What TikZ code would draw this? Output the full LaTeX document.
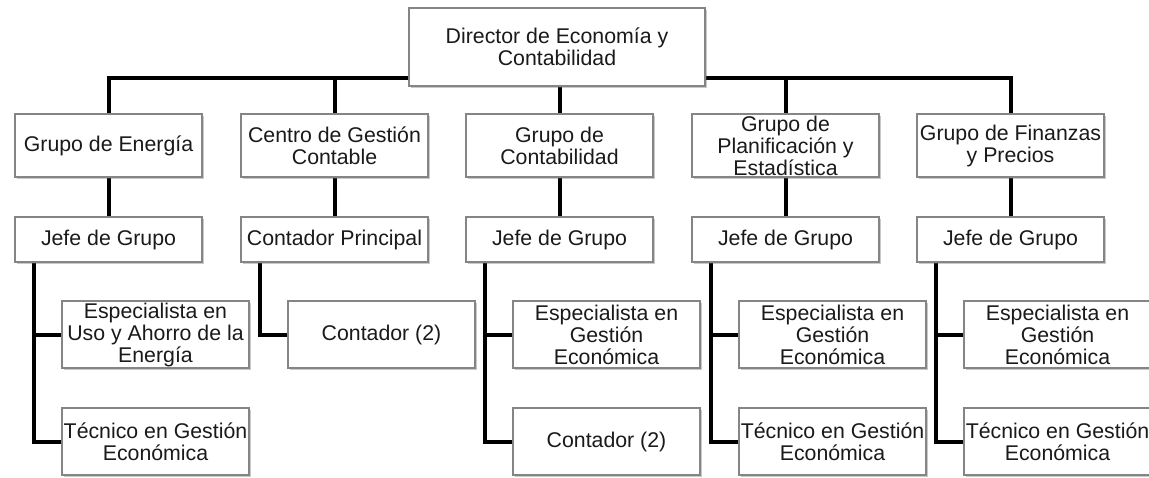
\documentclass[tikz,border=0pt]{standalone}
\usepackage{fontspec}
\setmainfont{Liberation Sans}
\usetikzlibrary{shadows,backgrounds}
\definecolor{boxline}{HTML}{858585}
\definecolor{txt}{HTML}{1A1A1A}
\begin{document}
\begin{tikzpicture}[x=1pt,y=-1pt,
  box/.style={draw=boxline, line width=1.1pt, fill=white, inner sep=0pt, align=center,
    text=txt, font=\fontsize{21.3}{22}\selectfont,
    drop shadow={shadow xshift=1.6pt, shadow yshift=-1.8pt, opacity=0.35, fill=black!60}},
  topbox/.style={box, minimum width=296pt, minimum height=78pt},
  grp/.style={box, minimum width=187pt, minimum height=63pt},
  jefe/.style={box, minimum width=187pt, minimum height=45pt},
  sub/.style={box, minimum width=187pt, minimum height=67pt},
  conn/.style={draw=black, line width=4pt}]
\useasboundingbox (0,0) rectangle (1149,477);
\begin{scope}[on background layer]
\fill[white] (0,0) rectangle (1149,477);
\end{scope}

\node[topbox] (top) at (557,47) {Director de Economía y\\Contabilidad};

\node[grp] (g1) at (108.5,145.5) {Grupo de Energía};
\node[grp] (g2) at (334.5,145.5) {Centro de Gestión\\Contable};
\node[grp] (g3) at (559.5,145.5) {Grupo de\\Contabilidad};
\node[grp] (g4) at (785.5,145.5) {Grupo de\\Planificación y\\Estadística};
\node[grp] (g5) at (1010.5,145.5) {Grupo de Finanzas\\y Precios};

\node[jefe] (j1) at (108.5,239.5) {Jefe de Grupo};
\node[jefe] (j2) at (334.5,239.5) {Contador Principal};
\node[jefe] (j3) at (559.5,239.5) {Jefe de Grupo};
\node[jefe] (j4) at (785.5,239.5) {Jefe de Grupo};
\node[jefe] (j5) at (1010.5,239.5) {Jefe de Grupo};

\node[sub] (s1) at (155.5,334.5) {Especialista en\\Uso y Ahorro de la\\Energía};
\node[sub] (t1) at (155.5,441.5) {Técnico en Gestión\\Económica};
\node[sub] (s2) at (381.5,334.5) {Contador (2)};
\node[sub] (s3) at (606.5,334.5) {Especialista en\\Gestión\\Económica};
\node[sub] (t3) at (606.5,441.5) {Contador (2)};
\node[sub] (s4) at (832.5,334.5) {Especialista en\\Gestión\\Económica};
\node[sub] (t4) at (832.5,441.5) {Técnico en Gestión\\Económica};
\node[sub] (s5) at (1057.5,334.5) {Especialista en\\Gestión\\Económica};
\node[sub] (t5) at (1057.5,441.5) {Técnico en Gestión\\Económica};

\begin{scope}[on background layer]
  \coordinate (bar) at ([yshift=9pt]top.south);
  \foreach \g in {g1,g2,g3,g4,g5}{
    \draw[conn] (top.south) -- (bar) -| (\g.north);
  }
  \foreach \n in {1,2,3,4,5}{
    \draw[conn] (g\n.south) -- (j\n.north);
  }
  \draw[conn] ([xshift=20pt]j1.south west) |- (s1.west);
  \draw[conn] ([xshift=20pt]j1.south west) |- (t1.west);
  \draw[conn] ([xshift=20pt]j2.south west) |- (s2.west);
  \draw[conn] ([xshift=20pt]j3.south west) |- (s3.west);
  \draw[conn] ([xshift=20pt]j3.south west) |- (t3.west);
  \draw[conn] ([xshift=20pt]j4.south west) |- (s4.west);
  \draw[conn] ([xshift=20pt]j4.south west) |- (t4.west);
  \draw[conn] ([xshift=20pt]j5.south west) |- (s5.west);
  \draw[conn] ([xshift=20pt]j5.south west) |- (t5.west);
\end{scope}
\end{tikzpicture}
\end{document}
